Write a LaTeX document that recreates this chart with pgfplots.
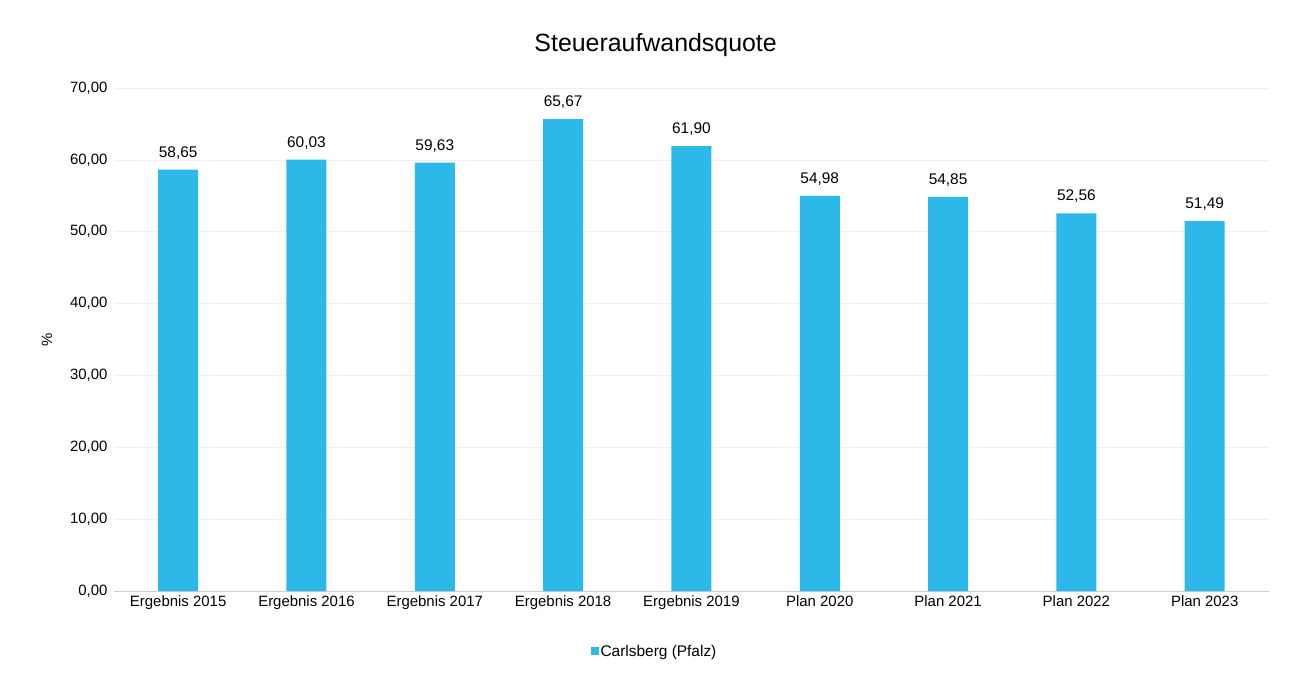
\documentclass[border=0pt]{standalone}
\usepackage{pgfplots}
\pgfplotsset{compat=1.18}
\usepackage{fontspec}
\setmainfont{Liberation Sans}
\definecolor{barblue}{HTML}{2DB8EA}
\begin{document}
\begin{tikzpicture}[x=1bp,y=1bp]
\useasboundingbox (-114bp,-86bp) rectangle (1184bp,591bp);
\begin{axis}[
  at={(0,0)}, anchor=south west,
  scale only axis, width=1155bp, height=503bp,
  ymin=0, ymax=70, ytick={0,10,...,70},
  xmin=-0.5, xmax=8.5,
  xtick=data,
  xticklabels={Ergebnis 2015,Ergebnis 2016,Ergebnis 2017,Ergebnis 2018,Ergebnis 2019,Plan 2020,Plan 2021,Plan 2022,Plan 2023},
  ymajorgrids, grid style={gray!12, line width=0.6bp},
  axis line style={draw=none},
  extra y ticks={0}, extra y tick style={grid style={gray!40}, yticklabels={}},
  major tick length=0pt,
  tick label style={font=\fontsize{15}{17}\selectfont},
  /pgf/number format/assume math mode=true,
  xticklabel style={yshift=-1bp},
  yticklabel style={xshift=-3bp, /pgf/number format/.cd, fixed, fixed zerofill, precision=2, use comma, 1000 sep={}},
  ylabel={\%}, ylabel style={font=\fontsize{15}{17}\selectfont, at={(axis description cs:-0.058,0.5)}, anchor=center},
  title={Steueraufwandsquote}, title style={font=\fontsize{25}{28}\selectfont, at={(0.469,1)}, yshift=22bp},
  ybar, bar width=40bp,
  nodes near coords,
  nodes near coords style={font=\fontsize{15.5}{17}\selectfont, yshift=7bp, /pgf/number format/.cd, fixed, fixed zerofill, precision=2, use comma},
  legend style={at={(0.468,-0.12)}, anchor=center, draw=none, font=\fontsize{15.5}{17}\selectfont, inner sep=1bp},
  legend image code/.code={\fill[barblue] (0bp,-4bp) rectangle (8bp,4bp);},
]
\addplot[fill=barblue, draw=none] coordinates {(0,58.65) (1,60.03) (2,59.63) (3,65.67) (4,61.90) (5,54.98) (6,54.85) (7,52.56) (8,51.49)};
\addlegendentry{Carlsberg (Pfalz)}
\end{axis}
\end{tikzpicture}
\end{document}
